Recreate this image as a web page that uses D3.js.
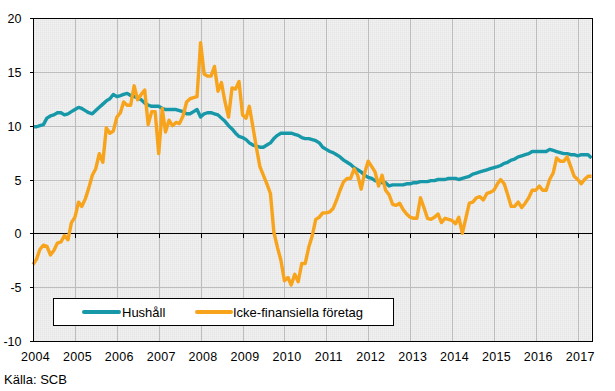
<!DOCTYPE html>
<html>
<head>
<meta charset="utf-8">
<script src="https://cdn.jsdelivr.net/npm/d3@7"></script>
<style>
  html, body { margin: 0; padding: 0; background: #fff; }
  svg { display: block; font-family: "Liberation Sans", Arial, sans-serif; }
</style>
</head>
<body>
<svg id="chart" width="615" height="391"></svg>
<script>
// ---- data (monthly, Jan 2004 – May 2017) ----
const startYear = 2004;
const startMonth = 0; // January
const seriesNames = ["Hushåll", "Icke-finansiella företag"];
const hushall = [
  9.9, 9.9, 10.0, 10.1, 10.7, 10.9, 11.0, 11.2, 11.2, 11.0,
  11.1, 11.3, 11.5, 11.7, 11.6, 11.4, 11.2, 11.1, 11.4, 11.7,
  12.0, 12.3, 12.5, 12.9, 12.7, 12.8, 12.9, 13.0, 12.8, 12.7,
  12.6, 12.4, 12.1, 11.9, 11.8, 11.8, 11.8, 11.6, 11.5, 11.5,
  11.5, 11.5, 11.4, 11.3, 11.1, 11.1, 11.3, 11.5, 10.8, 11.1,
  11.2, 11.2, 11.1, 11.0, 10.7, 10.4, 10.0, 9.7, 9.3, 9.0,
  8.9, 8.7, 8.4, 8.2, 8.1, 8.0, 8.0, 8.2, 8.4, 8.8,
  9.1, 9.3, 9.3, 9.3, 9.3, 9.2, 9.1, 8.9, 8.8, 8.8,
  8.7, 8.6, 8.4, 8.0, 7.8, 7.6, 7.5, 7.3, 7.1, 6.8,
  6.6, 6.4, 6.1, 5.9, 5.7, 5.4, 5.2, 5.1, 4.9, 4.8,
  4.7, 4.7, 4.4, 4.5, 4.5, 4.5, 4.5, 4.6, 4.6, 4.7,
  4.7, 4.8, 4.8, 4.8, 4.9, 4.9, 5.0, 5.0, 5.0, 5.1,
  5.1, 5.1, 5.0, 5.1, 5.2, 5.3, 5.5, 5.6, 5.7, 5.8,
  5.9, 6.0, 6.1, 6.2, 6.3, 6.5, 6.6, 6.8, 6.9, 7.1,
  7.2, 7.3, 7.4, 7.6, 7.6, 7.6, 7.6, 7.6, 7.8, 7.7,
  7.6, 7.5, 7.4, 7.4, 7.3, 7.3, 7.2, 7.3, 7.3, 7.3, 7.0
];
const foretag = [
  -2.9, -2.4, -1.5, -1.1, -1.2, -2.0, -1.6, -0.9, -0.8, -0.2,
  -0.6, 1.0, 1.5, 2.9, 2.5, 3.2, 4.2, 5.4, 6.0, 7.4,
  6.6, 9.8, 9.3, 9.5, 10.8, 11.2, 12.2, 11.9, 11.9, 13.7,
  12.4, 12.9, 13.3, 10.1, 11.3, 11.3, 7.4, 11.6, 9.4, 10.5,
  10.0, 10.3, 10.2, 10.9, 12.2, 12.5, 12.6, 12.7, 17.7, 14.8,
  14.6, 14.6, 15.5, 13.2, 14.0, 12.2, 10.8, 13.5, 13.4, 14.1,
  11.0, 10.7, 11.8, 9.9, 8.0, 6.2, 5.4, 4.6, 3.7, 0.1,
  -1.3, -2.5, -4.4, -4.1, -4.8, -3.8, -4.5, -2.8, -2.8, -1.3,
  -0.2, 1.3, 1.5, 1.9, 1.9, 2.0, 2.3, 3.1, 4.0, 4.8,
  5.1, 5.1, 6.0, 5.4, 4.1, 5.6, 6.7, 6.2, 5.7, 4.4,
  5.4, 4.0, 3.6, 2.7, 2.6, 2.8, 2.2, 1.8, 1.5, 1.4,
  1.4, 3.3, 2.4, 1.4, 1.3, 1.5, 1.8, 1.0, 1.4, 1.3,
  1.2, 0.9, 1.5, 0.0, 1.4, 2.8, 2.9, 3.3, 3.4, 3.1,
  3.7, 3.8, 4.0, 4.6, 5.0, 4.6, 3.6, 2.5, 2.5, 2.9,
  2.4, 2.8, 3.3, 4.0, 4.0, 4.4, 4.0, 4.0, 5.0, 5.6,
  7.0, 6.7, 6.7, 7.1, 6.2, 5.3, 5.0, 4.6, 5.0, 5.3, 5.3
];
const yTicks = [-10, -5, 0, 5, 10, 15, 20];
const xTickYears = [2004, 2005, 2006, 2007, 2008, 2009, 2010, 2011, 2012, 2013, 2014, 2015, 2016, 2017];
const sourceText = "Källa: SCB";

// ---- layout ----
const svg = d3.select("#chart");
const m = { left: 33, top: 18, right: 591.5, bottom: 341 };
const colors = ["#1798a9", "#f7a31b"];

const dates = hushall.map((_, i) => new Date(startYear, startMonth + i, 1));
const x = d3.scaleTime()
  .domain([dates[0], dates[dates.length - 1]])
  .range([m.left, m.right]);
const y = d3.scaleLinear().domain([-10, 20]).range([m.bottom, m.top]);

// plot background
const defs = svg.append("defs");
const pat = defs.append("pattern").attr("id", "dots")
  .attr("width", 2).attr("height", 2).attr("patternUnits", "userSpaceOnUse");
pat.append("rect").attr("width", 2).attr("height", 2).attr("fill", "#ececec");
pat.append("rect").attr("x", 0).attr("y", 0).attr("width", 1).attr("height", 1).attr("fill", "#e6e6e6");
pat.append("rect").attr("x", 1).attr("y", 1).attr("width", 1).attr("height", 1).attr("fill", "#f1f1f1");

svg.append("rect")
  .attr("x", m.left).attr("y", m.top)
  .attr("width", m.right - m.left).attr("height", m.bottom - m.top)
  .attr("fill", "url(#dots)");

// gridlines
const grid = svg.append("g").attr("stroke", "#bdbdbd").attr("stroke-width", 1).attr("shape-rendering", "crispEdges");
grid.selectAll(".hg").data(yTicks.filter(v => v !== 0 && v !== -10 && v !== 20)).join("line")
  .attr("x1", m.left).attr("x2", m.right)
  .attr("y1", d => Math.round(y(d)) + 0.5).attr("y2", d => Math.round(y(d)) + 0.5);
grid.selectAll(".vg").data(xTickYears.slice(1)).join("line")
  .attr("x1", d => Math.round(x(new Date(d, 0, 1))) + 0.5)
  .attr("x2", d => Math.round(x(new Date(d, 0, 1))) + 0.5)
  .attr("y1", m.top).attr("y2", m.bottom);

// zero line with ticks
const zeroAxis = d3.axisBottom(x)
  .tickValues(xTickYears.map(yr => new Date(yr, 0, 1)))
  .tickSize(4).tickFormat("");
const gz = svg.append("g")
  .attr("transform", `translate(0,${Math.round(y(0)) + 0.5})`)
  .attr("shape-rendering", "crispEdges")
  .call(zeroAxis);
gz.select(".domain").attr("d", `M${m.left},0H${m.right}`).attr("stroke", "#000");
gz.selectAll(".tick line").attr("stroke", "#000");

// x labels
const xAxis = d3.axisBottom(x)
  .tickValues(xTickYears.map(yr => new Date(yr, 0, 1)))
  .tickSize(0).tickPadding(0)
  .tickFormat(d3.timeFormat("%Y"));
const gx = svg.append("g")
  .attr("transform", `translate(2,${m.bottom})`)
  .call(xAxis);
gx.select(".domain").remove();
gx.selectAll("text")
  .attr("dy", null).attr("y", 20)
  .attr("fill", "#000").attr("font-size", "12.5px")
  .attr("letter-spacing", "0.3px")
  .attr("font-family", "'Liberation Sans', Arial, sans-serif");

// y axis labels + ticks
const yAxis = d3.axisLeft(y).tickValues(yTicks).tickSize(4).tickPadding(8).tickFormat(d3.format("d"));
const gy = svg.append("g")
  .attr("transform", `translate(${m.left + 0.5},0)`)
  .attr("shape-rendering", "crispEdges")
  .call(yAxis);
gy.select(".domain").remove();
gy.selectAll(".tick line").attr("stroke", "#000");
gy.selectAll(".tick").attr("transform", d => `translate(0,${Math.round(y(d)) + 0.5})`);
gy.selectAll("text")
  .attr("fill", "#000").attr("font-size", "12.5px")
  .attr("font-family", "'Liberation Sans', Arial, sans-serif")
  .style("font-variant-numeric", "normal")
  .text(d => d < 0 ? "-" + Math.abs(d) : d);

// lines
const line = d3.line()
  .x((d, i) => x(dates[i]))
  .y(d => y(d));
const seriesData = [hushall, foretag];
svg.append("g").selectAll("path").data(seriesData).join("path")
  .attr("d", d => line(d))
  .attr("fill", "none")
  .attr("stroke", (d, i) => colors[i])
  .attr("stroke-width", 3.4)
  .attr("stroke-linejoin", "round")
  .attr("stroke-linecap", "butt");

// frame
svg.append("rect")
  .attr("x", m.left + 0.5).attr("y", m.top + 0.5)
  .attr("width", Math.round(m.right - m.left) - 0.5).attr("height", m.bottom - m.top - 0.5)
  .attr("fill", "none").attr("stroke", "#000").attr("stroke-width", 1)
  .attr("shape-rendering", "crispEdges");

// legend
const lg = svg.append("g");
lg.append("rect")
  .attr("x", 53.5).attr("y", 298.5).attr("width", 340).attr("height", 27)
  .attr("fill", "#fff").attr("stroke", "#000").attr("stroke-width", 1)
  .attr("shape-rendering", "crispEdges");
const legendItems = [
  { name: seriesNames[0], color: colors[0], x1: 84, x2: 119, tx: 122 },
  { name: seriesNames[1], color: colors[1], x1: 197, x2: 231, tx: 233 }
];
legendItems.forEach(it => {
  lg.append("line")
    .attr("x1", it.x1).attr("x2", it.x2).attr("y1", 312).attr("y2", 312)
    .attr("stroke", it.color).attr("stroke-width", 4).attr("stroke-linecap", "round");
  lg.append("text")
    .attr("x", it.tx).attr("y", 316.5)
    .attr("font-size", "13px").attr("fill", "#000")
    .text(it.name);
});

// source
svg.append("text")
  .attr("x", 4).attr("y", 384)
  .attr("font-size", "13px").attr("fill", "#000")
  .text(sourceText);
</script>
</body>
</html>
